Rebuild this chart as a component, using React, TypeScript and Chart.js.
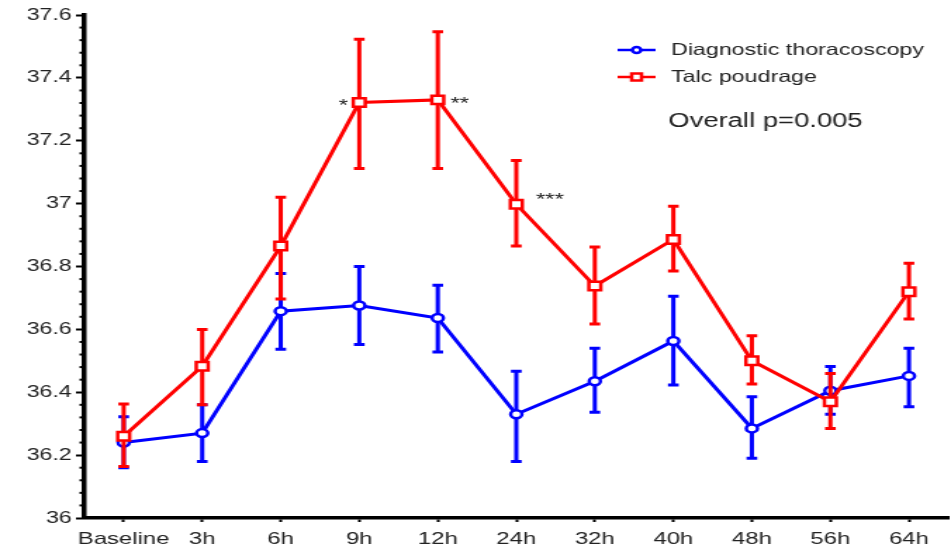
import React, { useEffect, useRef } from 'react';
import { Chart, registerables } from 'chart.js';

Chart.register(...registerables);

const categories = ['Baseline', '3h', '6h', '9h', '12h', '24h', '32h', '40h', '48h', '56h', '64h'];

const diagMean = [36.24, 36.27, 36.658, 36.676, 36.636, 36.33, 36.435, 36.563, 36.285, 36.405, 36.452];
const diagUpper = [36.322, 36.36, 36.778, 36.8, 36.74, 36.467, 36.54, 36.705, 36.386, 36.482, 36.54];
const diagLower = [36.16, 36.18, 36.537, 36.552, 36.528, 36.18, 36.336, 36.423, 36.19, 36.33, 36.354];

const talcMean = [36.26, 36.483, 36.865, 37.322, 37.33, 36.998, 36.738, 36.886, 36.5, 36.37, 36.72];
const talcUpper = [36.363, 36.6, 37.02, 37.523, 37.547, 37.137, 36.862, 36.992, 36.58, 36.46, 36.81];
const talcLower = [36.164, 36.36, 36.697, 37.112, 37.112, 36.865, 36.617, 36.786, 36.426, 36.285, 36.633];

const yTickValues = [36, 36.2, 36.4, 36.6, 36.8, 37, 37.2, 37.4, 37.6];
const yTickLabels = ['36', '36.2', '36.4', '36.6', '36.8', '37', '37.2', '37.4', '37.6'];
const yMinorStep = 0.04;

const seriesLabels = ['Diagnostic thoracoscopy', 'Talc poudrage'];
const pValueText = 'Overall p=0.005';

const starIndex = [3, 4, 5];
const starText = ['*', '**', '***'];

const FONT = '"Liberation Sans", Arial, Helvetica, sans-serif';
const BLUE = '#0000ff';
const RED = '#ff0000';
const W = 676;
const H = 549;
const SX = 951 / W;

const errorBarPlugin = {
  id: 'errorBars',
  beforeDatasetDraw(chart: any, args: any) {
    const ds = chart.data.datasets[args.index];
    if (!ds.errUpper) return;
    const y = chart.scales.y;
    const ctx = chart.ctx;
    const cap = 3.8;
    ctx.save();
    ctx.strokeStyle = ds.borderColor;
    ctx.lineWidth = 3;
    ctx.lineCap = 'butt';
    args.meta.data.forEach((pt: any, i: number) => {
      const x = pt.x;
      const yu = y.getPixelForValue(ds.errUpper[i]);
      const yl = y.getPixelForValue(ds.errLower[i]);
      ctx.beginPath();
      ctx.moveTo(x, yu);
      ctx.lineTo(x, yl);
      ctx.moveTo(x - cap, yu);
      ctx.lineTo(x + cap, yu);
      ctx.moveTo(x - cap, yl);
      ctx.lineTo(x + cap, yl);
      ctx.stroke();
    });
    ctx.restore();
  },
};

const minorTickPlugin = {
  id: 'minorTicks',
  afterDraw(chart: any) {
    const y = chart.scales.y;
    const ctx = chart.ctx;
    const left = chart.chartArea.left;
    const n = Math.round((y.max - y.min) / yMinorStep);
    ctx.save();
    ctx.strokeStyle = '#000';
    ctx.lineWidth = 2;
    for (let k = 0; k <= n; k++) {
      if (k % 5 === 0) continue;
      const py = y.getPixelForValue(y.min + k * yMinorStep);
      ctx.beginPath();
      ctx.moveTo(left - 3.5, py);
      ctx.lineTo(left, py);
      ctx.stroke();
    }
    ctx.restore();
  },
};

const annotationPlugin = {
  id: 'stars',
  afterDatasetsDraw(chart: any) {
    const meta = chart.getDatasetMeta(1);
    const ctx = chart.ctx;
    ctx.save();
    ctx.fillStyle = '#222';
    ctx.font = `17px ${FONT}`;
    ctx.textBaseline = 'alphabetic';
    starIndex.forEach((idx, j) => {
      const pt = meta.data[idx];
      if (j === 0) {
        ctx.textAlign = 'right';
        ctx.fillText(starText[j], pt.x - 8, pt.y + 9);
      } else if (j === 1) {
        ctx.textAlign = 'left';
        ctx.fillText(starText[j], pt.x + 9, pt.y + 9);
      } else {
        ctx.textAlign = 'left';
        ctx.fillText(starText[j], pt.x + 14, pt.y + 1);
      }
    });
    ctx.restore();
  },
};

const legendPlugin = {
  id: 'customLegend',
  afterDraw(chart: any) {
    const ctx = chart.ctx;
    const x0 = 439;
    const rows = [50, 77];
    const colors = [BLUE, RED];
    ctx.save();
    rows.forEach((ry, i) => {
      ctx.strokeStyle = colors[i];
      ctx.lineWidth = 2.5;
      ctx.beginPath();
      ctx.moveTo(x0, ry);
      ctx.lineTo(x0 + 27, ry);
      ctx.stroke();
      ctx.fillStyle = '#fff';
      ctx.lineWidth = 2.5;
      ctx.beginPath();
      if (i === 0) {
        ctx.arc(x0 + 13.5, ry, 3, 0, Math.PI * 2);
      } else {
        ctx.rect(x0 + 13.5 - 3.5, ry - 3.5, 7, 7);
      }
      ctx.fill();
      ctx.stroke();
      ctx.fillStyle = '#222';
      ctx.font = `16.5px ${FONT}`;
      ctx.textAlign = 'left';
      ctx.textBaseline = 'middle';
      ctx.fillText(seriesLabels[i], 477, ry);
    });
    ctx.font = `19.5px ${FONT}`;
    ctx.fillText(pValueText, 475, 122);
    ctx.restore();
  },
};

export default function App() {
  const ref = useRef<HTMLCanvasElement | null>(null);

  useEffect(() => {
    document.body.style.margin = '0';
    document.body.style.overflow = 'hidden';
    if (!ref.current) return;
    const chart = new Chart(ref.current, {
      type: 'line',
      data: {
        labels: categories,
        datasets: [
          {
            label: seriesLabels[0],
            data: diagMean,
            errUpper: diagUpper,
            errLower: diagLower,
            borderColor: BLUE,
            backgroundColor: '#fff',
            pointBackgroundColor: '#fff',
            pointBorderColor: BLUE,
            pointStyle: 'circle',
            pointRadius: 4,
            pointBorderWidth: 2.5,
            borderWidth: 3,
            tension: 0,
            order: 1,
          } as any,
          {
            label: seriesLabels[1],
            data: talcMean,
            errUpper: talcUpper,
            errLower: talcLower,
            borderColor: RED,
            backgroundColor: '#fff',
            pointBackgroundColor: '#fff',
            pointBorderColor: RED,
            pointStyle: 'rect',
            pointRadius: 6,
            pointBorderWidth: 2.5,
            borderWidth: 3,
            tension: 0,
            order: 0,
          } as any,
        ],
      },
      options: {
        animation: false,
        responsive: true,
        maintainAspectRatio: false,
        layout: { autoPadding: false, padding: { top: 15, right: 2, left: 0, bottom: 0 } },
        plugins: {
          legend: { display: false },
          tooltip: { enabled: false },
        },
        scales: {
          x: {
            type: 'category',
            offset: true,
            grid: {
              display: true,
              drawOnChartArea: false,
              drawTicks: true,
              tickLength: 4,
              tickWidth: 2,
              tickColor: '#000',
              offset: false,
            },
            border: { display: true, color: '#000', width: 3.5 },
            ticks: {
              color: '#222',
              font: { family: FONT, size: 17 },
              padding: 7,
              maxRotation: 0,
              autoSkip: false,
            },
            afterFit: (s: any) => {
              s.height = 31;
              s.paddingLeft = 0;
              s.paddingRight = 0;
            },
          },
          y: {
            min: 36,
            max: 37.6,
            afterBuildTicks: (s: any) => {
              s.ticks = yTickValues.map((v) => ({ value: v }));
            },
            grid: {
              display: true,
              drawOnChartArea: false,
              drawTicks: true,
              tickLength: 6,
              tickWidth: 2,
              tickColor: '#000',
            },
            border: { display: true, color: '#000', width: 3.5 },
            ticks: {
              color: '#222',
              font: { family: FONT, size: 16.5 },
              padding: 3,
              callback: (_v: any, i: number) => yTickLabels[i],
            },
            afterFit: (s: any) => {
              s.width = 60;
              s.paddingTop = 0;
              s.paddingBottom = 0;
            },
          },
        },
      } as any,
      plugins: [errorBarPlugin, minorTickPlugin, annotationPlugin, legendPlugin],
    });
    return () => chart.destroy();
  }, []);

  return (
    <div
      style={{
        width: W,
        height: H,
        position: 'relative',
        transform: `scaleX(${SX})`,
        transformOrigin: '0 0',
      }}
    >
      <canvas ref={ref} />
    </div>
  );
}
